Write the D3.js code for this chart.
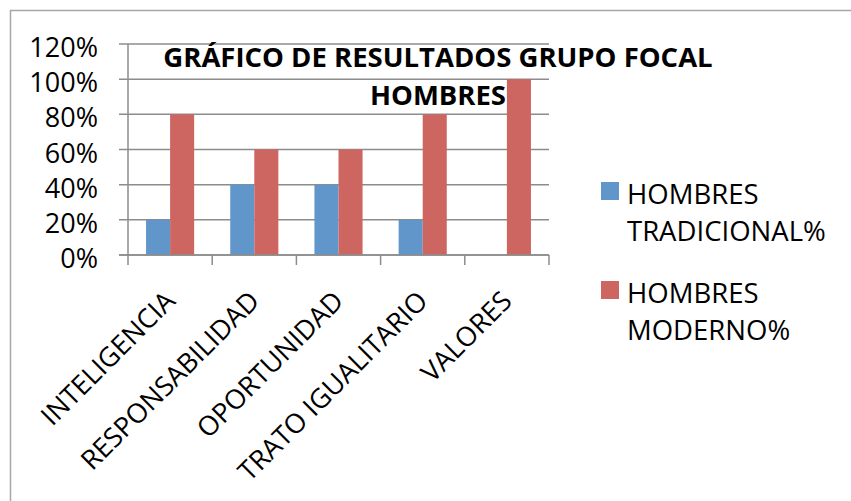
<!DOCTYPE html>
<html>
<head>
<meta charset="utf-8">
<script src="https://cdn.jsdelivr.net/npm/d3@7"></script>
<style>
  body { margin: 0; background: #fff; }
  text { font-family: "Open Sans", sans-serif; fill: #000; }
</style>
</head>
<body>
<script>
'use strict';

// chart values
const categories = ["INTELIGENCIA", "RESPONSABILIDAD", "OPORTUNIDAD", "TRATO IGUALITARIO", "VALORES"];
const seriesNames = ["HOMBRES TRADICIONAL%", "HOMBRES MODERNO%"];
const tradicional = [0.2, 0.4, 0.4, 0.2, 0];
const moderno = [0.8, 0.6, 0.6, 0.8, 1.0];
const yTicks = [0, 0.2, 0.4, 0.6, 0.8, 1.0, 1.2];
const titleLines = ["GRÁFICO DE RESULTADOS GRUPO FOCAL", "HOMBRES"];

const colors = ["#6096ca", "#cd6661"];
const gridColor = "#8c8c8c";

let svg = d3.select('body')
  .append('svg')
  .attr('width', 851)
  .attr('height', 501);

// outer chart border (cut at right and bottom in the original)
svg.append('path')
  .attr('d', 'M10.5,501V10.5H851')
  .attr('fill', 'none')
  .attr('stroke', '#a6a6a6')
  .attr('stroke-width', 1.5);

let plot = {left: 128, right: 549, top: 44, bottom: 255};

let xScale = d3.scaleBand()
  .domain(categories)
  .range([plot.left, plot.right])
  .paddingInner(0.4286)
  .paddingOuter(0.2143);

let xSeries = d3.scaleBand()
  .domain(seriesNames)
  .range([0, xScale.bandwidth()]);

let yScale = d3.scaleLinear()
  .domain([0, 1.2])
  .range([plot.bottom, plot.top]);

// gridlines, also acting as left tick marks
svg.append('g')
  .selectAll('line')
  .data(yTicks)
  .enter()
  .append('line')
    .attr('x1', plot.left - 9)
    .attr('x2', plot.right)
    .attr('y1', d => yScale(d))
    .attr('y2', d => yScale(d))
    .attr('stroke', gridColor)
    .attr('stroke-width', 1.5);

// y tick labels
svg.append('g')
  .selectAll('text')
  .data(yTicks)
  .enter()
  .append('text')
    .attr('x', 98)
    .attr('y', d => yScale(d) + 13)
    .attr('text-anchor', 'end')
    .style('font-size', '27px')
    .text(d => d3.format('.0%')(d));

// bars
let seriesData = [tradicional, moderno];
seriesData.forEach((values, s) => {
  svg.append('g')
    .selectAll('rect')
    .data(values)
    .enter()
    .append('rect')
      .attr('x', (d, i) => xScale(categories[i]) + xSeries(seriesNames[s]))
      .attr('y', d => yScale(d))
      .attr('width', xSeries.bandwidth())
      .attr('height', d => plot.bottom - yScale(d))
      .attr('fill', colors[s]);
});

// axes lines
svg.append('line')
  .attr('x1', plot.left).attr('x2', plot.left)
  .attr('y1', plot.top).attr('y2', plot.bottom)
  .attr('stroke', gridColor).attr('stroke-width', 1.5);

svg.append('line')
  .attr('x1', plot.left - 9).attr('x2', plot.right)
  .attr('y1', plot.bottom).attr('y2', plot.bottom)
  .attr('stroke', gridColor).attr('stroke-width', 1.5);

// category boundary ticks
let step = xScale.step();
svg.append('g')
  .selectAll('line')
  .data(d3.range(categories.length + 1))
  .enter()
  .append('line')
    .attr('x1', i => plot.left + i * step)
    .attr('x2', i => plot.left + i * step)
    .attr('y1', plot.bottom)
    .attr('y2', plot.bottom + 10)
    .attr('stroke', gridColor)
    .attr('stroke-width', 1.5);

// rotated category labels
svg.append('g')
  .selectAll('text')
  .data(categories)
  .enter()
  .append('text')
    .attr('transform', d => 'translate(' + (xScale(d) + xScale.bandwidth() / 2) + ', 296)rotate(-45)')
    .attr('text-anchor', 'end')
    .attr('dy', '0.35em')
    .style('font-size', '27px')
    .text(d => d);

// title
svg.append('g')
  .selectAll('text')
  .data(titleLines)
  .enter()
  .append('text')
    .attr('x', 438)
    .attr('y', (d, i) => 67 + i * 38)
    .attr('text-anchor', 'middle')
    .style('font-size', '27.5px')
    .style('font-weight', 'bold')
    .text(d => d);

// legend
let legend = svg.append('g');
seriesNames.forEach((name, s) => {
  let top = 182 + s * 99;
  legend.append('rect')
    .attr('x', 601)
    .attr('y', top)
    .attr('width', 18)
    .attr('height', 18)
    .attr('fill', colors[s]);

  let words = name.split(' ');
  words.forEach((w, j) => {
    legend.append('text')
      .attr('x', 627)
      .attr('y', top + 22 + j * 37)
      .style('font-size', '27.5px')
      .text(w);
  });
});
</script>
</body>
</html>
